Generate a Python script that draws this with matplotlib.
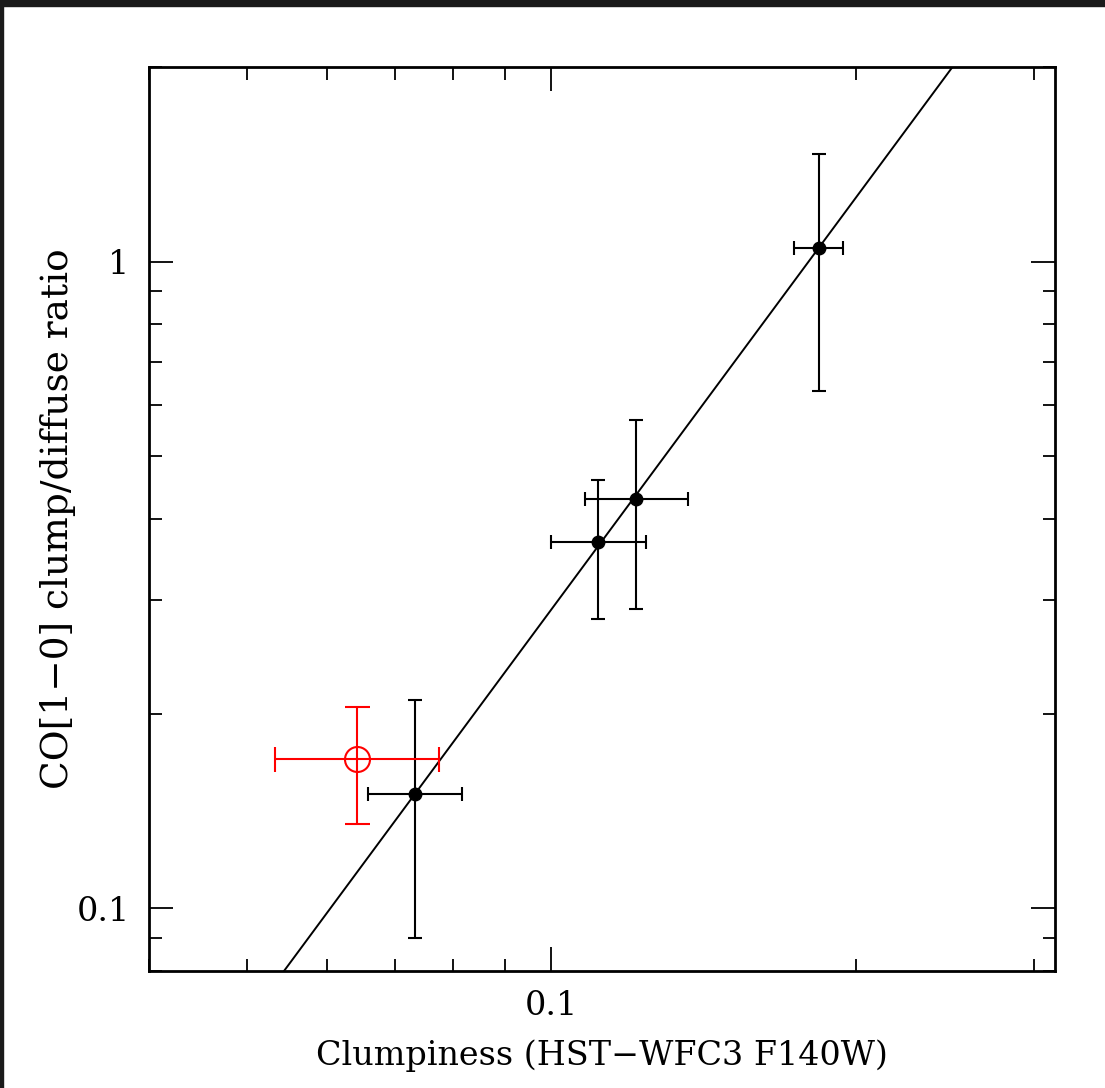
import numpy as np
import matplotlib
matplotlib.use('Agg')
import matplotlib.pyplot as plt
from matplotlib.patches import Rectangle
from matplotlib.ticker import LogLocator, NullFormatter, FixedLocator, FixedFormatter

# %% data
clump = [0.0733, 0.1113, 0.1214, 0.1842]
clump_lo = [0.0659, 0.1000, 0.1080, 0.1740]
clump_hi = [0.0816, 0.1240, 0.1364, 0.1945]
ratio = [0.150, 0.369, 0.430, 1.051]
ratio_lo = [0.090, 0.280, 0.290, 0.632]
ratio_hi = [0.210, 0.459, 0.570, 1.469]

# red open point
red_x, red_xlo, red_xhi = 0.0643, 0.0533, 0.0775
red_y, red_ylo, red_yhi = 0.170, 0.135, 0.2046

# power-law fit: log y = fit_a + fit_b * (log x + 1)
fit_a = -0.538
fit_b = 2.114

# %%
plt.rcParams['font.family'] = ['DejaVu Serif']
fig = plt.figure(figsize=(11.05, 10.88), dpi=100)
ax = fig.add_axes([149 / 1105, 1 - 971 / 1088, 906 / 1105, 904 / 1088])

# screenshot frame
fig.patches.append(Rectangle((0, 1 - 6 / 1088), 1, 6 / 1088, transform=fig.transFigure,
                             color='#1a1a1a', zorder=0))
fig.patches.append(Rectangle((0, 0), 3 / 1105, 1, transform=fig.transFigure,
                             color='#1a1a1a', zorder=0))

xf = np.array([0.04, 0.315])
yf = 10 ** (fit_a + fit_b * (np.log10(xf) + 1))
ax.plot(xf, yf, color='k', lw=1.4)

x = np.array(clump)
y = np.array(ratio)
ax.errorbar(x, y,
            xerr=[x - np.array(clump_lo), np.array(clump_hi) - x],
            yerr=[y - np.array(ratio_lo), np.array(ratio_hi) - y],
            fmt='o', color='k', ms=9, elinewidth=1.5, capsize=5, capthick=1.5)

ax.errorbar([red_x], [red_y],
            xerr=[[red_x - red_xlo], [red_xhi - red_x]],
            yerr=[[red_y - red_ylo], [red_yhi - red_y]],
            fmt='o', mfc='none', mec='red', color='red', ms=18, mew=1.5,
            elinewidth=1.5, capsize=9, capthick=1.5)

ax.set_xscale('log')
ax.set_yscale('log')
ax.set_xlim(0.04, 0.315)
ax.set_ylim(0.08, 2.0)

ax.xaxis.set_major_locator(FixedLocator([0.1]))
ax.xaxis.set_major_formatter(FixedFormatter(['0.1']))
ax.xaxis.set_minor_locator(LogLocator(base=10, subs=np.arange(2, 10)))
ax.xaxis.set_minor_formatter(NullFormatter())
ax.yaxis.set_major_locator(FixedLocator([0.1, 1]))
ax.yaxis.set_major_formatter(FixedFormatter(['0.1', '1']))
ax.yaxis.set_minor_locator(LogLocator(base=10, subs=np.arange(2, 10)))
ax.yaxis.set_minor_formatter(NullFormatter())

ax.tick_params(which='both', direction='in', top=True, right=True, width=1.3, labelsize=24)
ax.tick_params(which='major', length=17, pad=14)
ax.tick_params(which='minor', length=9)
for s in ax.spines.values():
    s.set_linewidth(2)

ax.set_xlabel('Clumpiness (HST\u2212WFC3 F140W)', fontsize=24, labelpad=12)
ax.set_ylabel('CO[1\u22120] clump/diffuse ratio', fontsize=27)
ax.yaxis.set_label_coords(-0.081, 0.5)

plt.savefig('out.png', dpi=100)
plt.close()
